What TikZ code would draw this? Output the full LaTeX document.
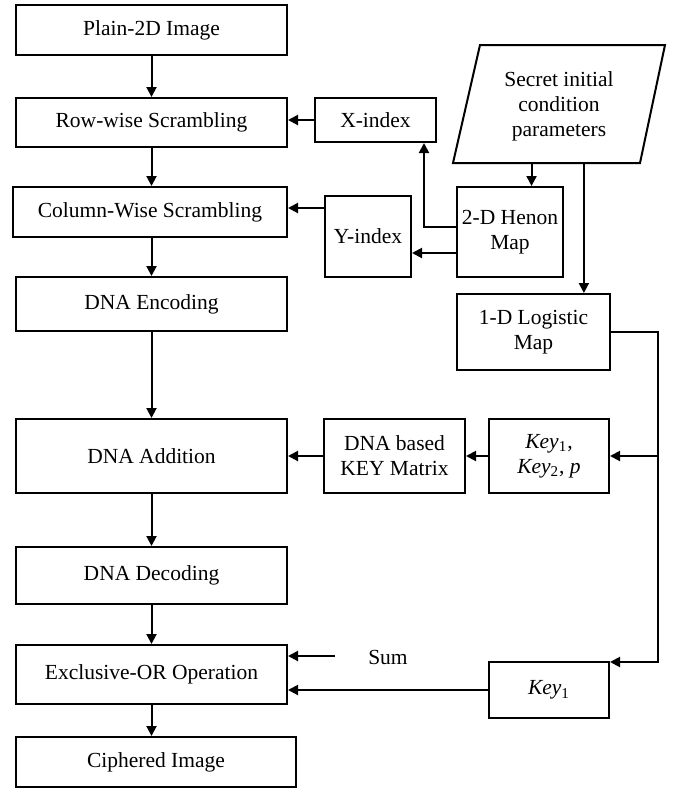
\documentclass[tikz,border=0pt]{standalone}
\usepackage{fontspec}
\setmainfont{Liberation Serif}
\usetikzlibrary{arrows.meta,calc}

\begin{document}
\begin{tikzpicture}[x=0.5pt,y=-0.5pt,
        font=\fontsize{10.75}{12.5}\selectfont,
        box/.style={draw,line width=1pt,inner sep=0pt,align=center},
        arr/.style={line width=1pt,-{Triangle[length=5pt,width=5pt]}}]
    \useasboundingbox (0,0) rectangle (673,789);
    % left column
    \node[box,minimum width=135.5pt,minimum height=25pt] (plain) at (151.5,30) {Plain-2D Image};
    \node[box,minimum width=135.5pt,minimum height=24.5pt] (row) at (151.5,122.5) {Row-wise Scrambling};
    \node[box,minimum width=137pt,minimum height=25pt] (col) at (150,212) {Column-Wise Scrambling};
    \node[box,minimum width=135.5pt,minimum height=27pt] (enc) at (151.5,304) {DNA Encoding};
    \node[box,minimum width=135.5pt,minimum height=37pt] (add) at (151.5,456) {DNA Addition};
    \node[box,minimum width=135.5pt,minimum height=28.5pt] (dec) at (151.5,575.5) {DNA Decoding};
    \node[box,minimum width=135.5pt,minimum height=29.5pt] (xor) at (151.5,674.5) {Exclusive-OR Operation};
    \node[box,minimum width=140pt,minimum height=25pt] (ciph) at (156,762) {Ciphered Image};
    % key generation side
    \node[box,minimum width=60.5pt,minimum height=22pt] (xidx) at (375.5,120) {X-index};
    \node[box,minimum width=43pt,minimum height=40.5pt] (yidx) at (368,236.5) {Y-index};
    \node[box,minimum width=53pt,minimum height=45pt] (henon) at (510,232) {2-D Henon\\Map};
    \coordinate (stl) at (480,45);
    \coordinate (str) at (665,45);
    \coordinate (sbr) at (640,163);
    \coordinate (sbl) at (453,163);
    \draw[line width=1pt] (stl) -- (str) -- (sbr) -- (sbl) -- cycle;
    \node[align=center] (secret) at (559,106) {Secret initial\\condition\\parameters};
    \coordinate (secA) at ($(sbl)!0.42!(sbr)$);
    \coordinate (secB) at ($(sbl)!0.70!(sbr)$);
    \node[box,minimum width=76.5pt,minimum height=38pt] (logistic) at (533.5,332) {1-D Logistic\\Map};
    \node[box,minimum width=70.5pt,minimum height=37pt] (matrix) at (394.5,456) {DNA based\\KEY Matrix};
    \node[box,minimum width=60pt,minimum height=37pt] (keys) at (549,456) {\textit{Key}\textsubscript{1},\\\textit{Key}\textsubscript{2}, \textit{p}};
    \node[box,minimum width=60pt,minimum height=28pt] (key1) at (549,690) {\textit{Key}\textsubscript{1}};
    \node (sum) at (388,657) {Sum};
    \coordinate (bend) at ([xshift=23.5pt]logistic.east);
    \coordinate (sumtail) at ([xshift=-13pt,yshift=0.5pt]sum.west);

    % main flow
    \draw[arr] (plain) -- (row);
    \draw[arr] (row) -- (row |- col.north);
    \draw[arr] (col.south -| plain.south) -- (enc);
    \draw[arr] (enc) -- (add);
    \draw[arr] (add) -- (dec);
    \draw[arr] (dec) -- (xor);
    \draw[arr] (xor.south) -- (xor.south |- ciph.north);
    % indices
    \draw[arr] (xidx.west) -- (xidx.west -| row.east);
    \draw[arr] ([yshift=2pt]yidx.west |- col.east) -- ([yshift=2pt]col.east);
    \draw[arr] ([yshift=2.5pt]henon.west) -| ([xshift=-6.5pt]xidx.south east);
    \draw[arr] ([yshift=-10.5pt]henon.west) -- ([yshift=-10.5pt]henon.west -| yidx.east);
    \draw[arr] (secA) -- (secA |- henon.north);
    \draw[arr] (secB) -- (secB |- logistic.north);
    % keys
    \draw[arr] (logistic.east) -- (bend) |- ([yshift=-0.5pt]key1.north east);
    \draw[arr] (bend |- keys.east) -- (keys.east);
    \draw[arr] (keys) -- (matrix);
    \draw[arr] (matrix) -- (add);
    \draw[arr] (key1.west) -- (key1.west -| xor.east);
    \draw[arr] (sumtail) -- (sumtail -| xor.east);
\end{tikzpicture}
\end{document}
